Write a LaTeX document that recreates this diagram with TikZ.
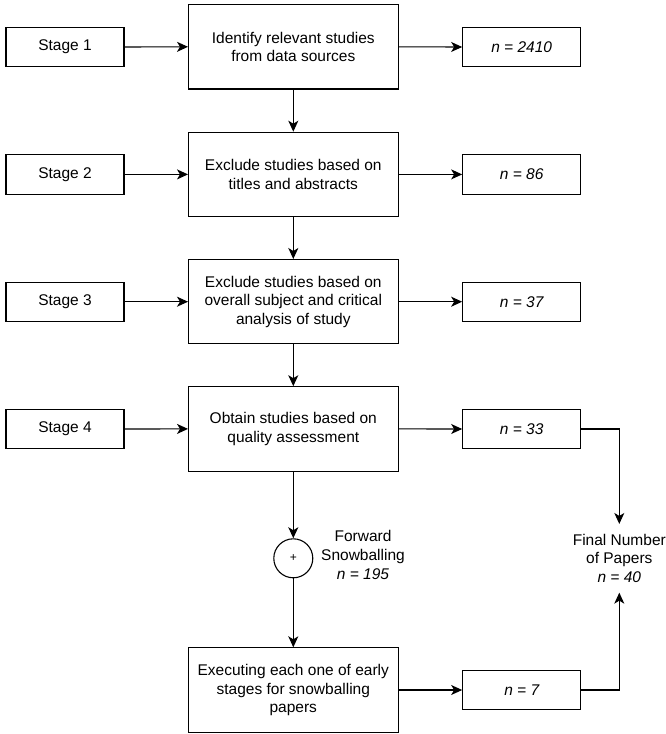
\documentclass[tikz,border=0pt]{standalone}
\usepackage{fontspec}
\setmainfont{Liberation Sans}
\usetikzlibrary{arrows.meta}
\begin{document}
\begin{tikzpicture}[x=1pt,y=-1pt,
  every node/.style={font=\fontsize{15.5}{18.6}\selectfont, align=center, inner sep=0pt},
  stagebox/.style={draw, line width=1.1pt, minimum width=118pt, minimum height=39.3pt},
  mainbox/.style={draw, line width=1.1pt, minimum width=209.5pt, minimum height=84.3pt},
  countbox/.style={draw, line width=1.1pt, minimum width=118pt, minimum height=39.3pt, font=\fontsize{15.5}{18.6}\selectfont\itshape},
  conn/.style={line width=1.1pt, -{Stealth[length=11pt,width=10pt,inset=3pt]}},
]
\useasboundingbox (0,0) rectangle (665,734);

\node[stagebox] (s1) at (65,47) {Stage 1};
\node[stagebox] (s2) at (65,174.4) {Stage 2};
\node[stagebox] (s3) at (65,301.7) {Stage 3};
\node[stagebox] (s4) at (65,429) {Stage 4};

\node[mainbox] (m1) at (293.3,46.8) {Identify relevant studies\\from data sources};
\node[mainbox] (m2) at (293.3,174.4) {Exclude studies based on\\titles and abstracts};
\node[mainbox] (m3) at (293.3,301.7) {Exclude studies based on\\overall subject and critical\\analysis of study};
\node[mainbox] (m4) at (293.3,428.9) {Obtain studies based on\\quality assessment};

\node[countbox] (c1) at (521.7,47) {n = 2410};
\node[countbox] (c2) at (521.7,174.4) {n = 86};
\node[countbox] (c3) at (521.7,301.7) {n = 37};
\node[countbox] (c4) at (521.7,429) {n = 33};

\node[draw, circle, line width=1.1pt, minimum size=39pt, font=\fontsize{12}{14}\selectfont] (plus) at (293.3,558.3) {+};
\node (fs) at (363,555) {Forward\\Snowballing\\\itshape n = 195};

\node[mainbox] (m5) at (293.3,690) {Executing each one of early\\stages for snowballing\\papers};
\node[countbox] (c5) at (521.7,690) {n = 7};

\node[minimum height=68.3pt] (fin) at (619.3,558.3) {Final Number\\of Papers\\\itshape n = 40};

\draw[conn] (s1.east) -- (m1.west);
\draw[conn] (s2.east) -- (m2.west);
\draw[conn] (s3.east) -- (m3.west);
\draw[conn] (s4.east) -- (m4.west);
\draw[conn] (m1.east) -- (c1.west);
\draw[conn] (m2.east) -- (c2.west);
\draw[conn] (m3.east) -- (c3.west);
\draw[conn] (m4.east) -- (c4.west);
\draw[conn] (m1.south) -- (m2.north);
\draw[conn] (m2.south) -- (m3.north);
\draw[conn] (m3.south) -- (m4.north);
\draw[conn] (m4.south) -- (plus.north);
\draw[conn] (plus.south) -- (m5.north);
\draw[conn] (m5.east) -- (c5.west);
\draw[conn] (c4.east) -| (fin.north);
\draw[conn] (c5.east) -| (fin.south);
\end{tikzpicture}
\end{document}
